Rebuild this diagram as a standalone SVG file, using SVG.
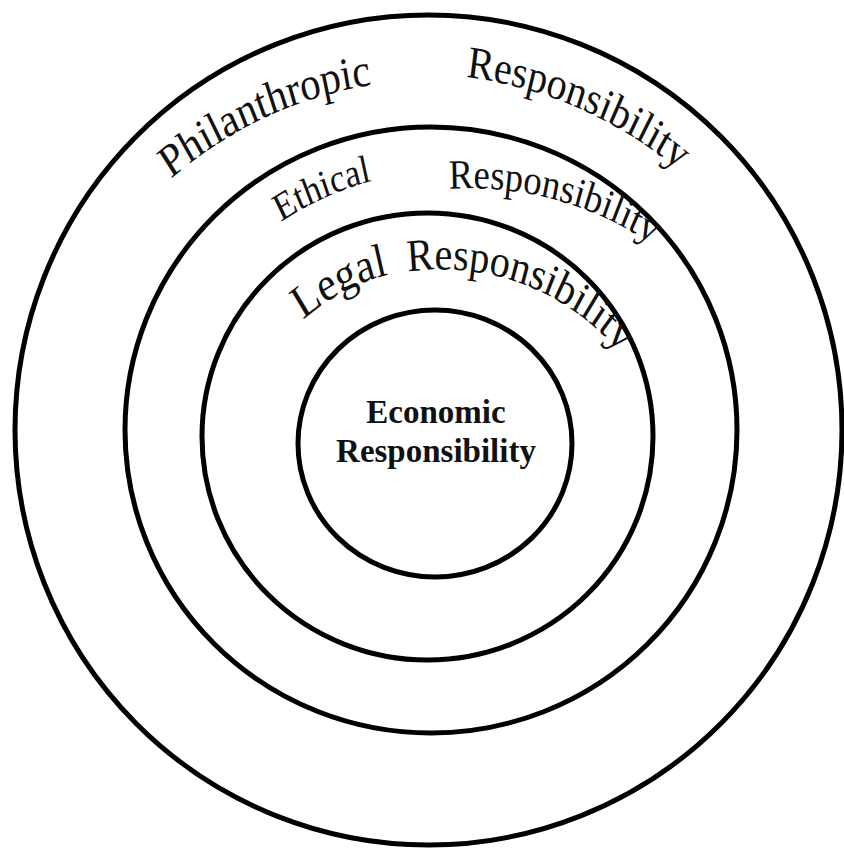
<svg xmlns="http://www.w3.org/2000/svg" xmlns:xlink="http://www.w3.org/1999/xlink" width="844" height="850" viewBox="0 0 844 850">
  <style>
    .ring { fill: none; stroke: #000; stroke-width: 5; }
    .arch { font-family: "Liberation Serif", "Times New Roman", serif; fill: #111; }
    .core { font-family: "Liberation Serif", "Times New Roman", serif; font-weight: bold; font-size: 33px; fill: #111; text-anchor: middle; }
  </style>
  <defs>
    <!-- baseline arcs for the arched labels; drawn inside a 0.88 horizontal squeeze
         so the lettering comes out tall and narrow -->
    <path id="arcPhil" d="M 135.7 179 A 454.5 400 0 0 1 662.4 133.5"/>
    <path id="arcPhilResp" d="M 470.9 77 A 465.9 410 0 0 1 849.7 343.5"/>
    <path id="arcEth" d="M 260.7 222 A 340.9 300 0 0 1 567 189.3"/>
    <path id="arcEthResp" d="M 451.6 189 A 363.6 320 0 0 1 817.7 398.9"/>
    <path id="arcLeg" d="M 285.7 320 A 238.6 210 0 0 1 525.1 280.2"/>
    <path id="arcLegResp" d="M 405 272 A 261.4 230 0 0 1 704.2 479.4"/>
  </defs>
  <rect width="844" height="850" fill="#fff"/>

  <g id="philanthropic">
    <ellipse class="ring" cx="428.5" cy="430" rx="413.5" ry="415"/>
    <g transform="matrix(0.88 0 0 1 51.6 0)">
      <text class="arch" font-size="46.3"><textPath href="#arcPhil" xlink:href="#arcPhil">Philanthropic</textPath></text>
      <text class="arch" font-size="45.4"><textPath href="#arcPhilResp" xlink:href="#arcPhilResp">Responsibility</textPath></text>
    </g>
  </g>

  <g id="ethical">
    <ellipse class="ring" cx="431" cy="430" rx="306" ry="303"/>
    <g transform="matrix(0.88 0 0 1 51.6 0)">
      <text class="arch" font-size="39.4"><textPath href="#arcEth" xlink:href="#arcEth">Ethical</textPath></text>
      <text class="arch" font-size="41.6"><textPath href="#arcEthResp" xlink:href="#arcEthResp">Responsibility</textPath></text>
    </g>
  </g>

  <g id="legal">
    <ellipse class="ring" cx="427.5" cy="436.5" rx="225.5" ry="223.5"/>
    <g transform="matrix(0.88 0 0 1 51.6 0)">
      <text class="arch" font-size="47.5"><textPath href="#arcLeg" xlink:href="#arcLeg">Legal</textPath></text>
      <text class="arch" font-size="45.6"><textPath href="#arcLegResp" xlink:href="#arcLegResp">Responsibility</textPath></text>
    </g>
  </g>

  <g id="economic">
    <ellipse class="ring" cx="435" cy="443.5" rx="137" ry="133.5"/>
    <text class="core" x="436" y="423">Economic</text>
    <text class="core" x="436" y="462">Responsibility</text>
  </g>
</svg>
